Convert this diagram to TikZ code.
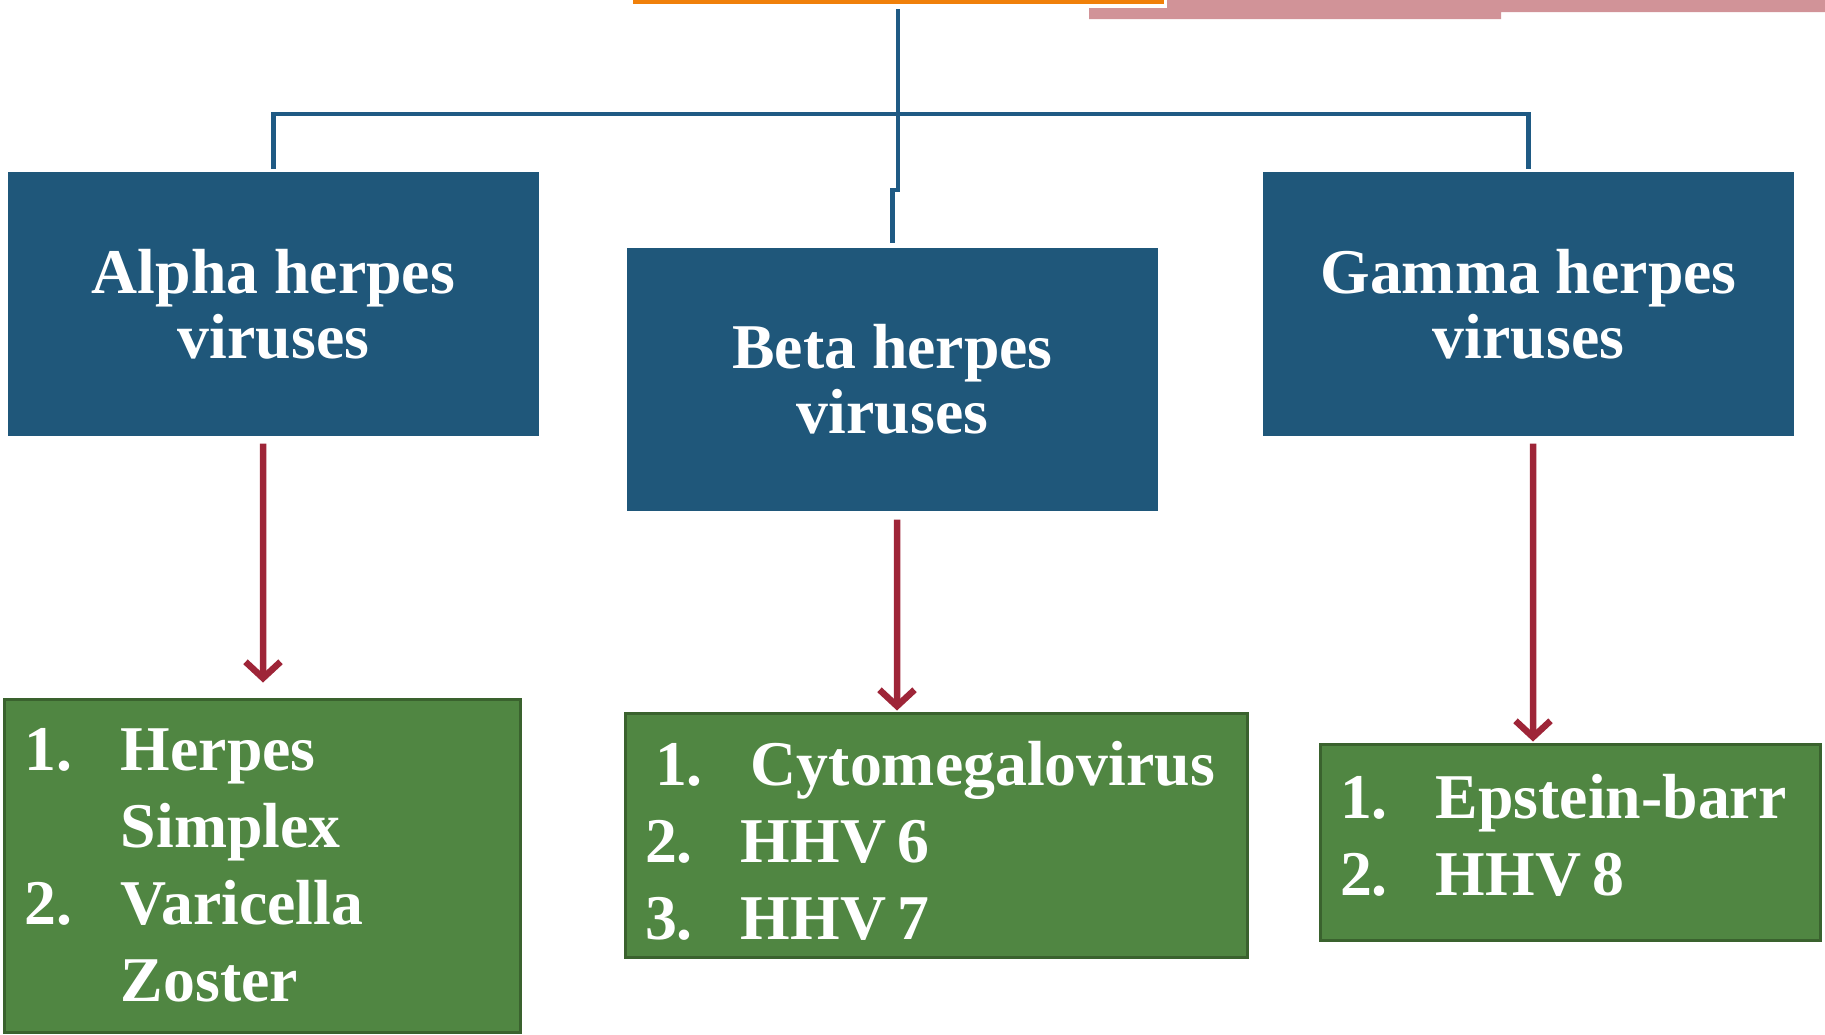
\documentclass[tikz,border=0pt]{standalone}
\usepackage{fontspec}
\setmainfont{Liberation Serif}
\usetikzlibrary{arrows.meta}
\definecolor{boxblue}{RGB}{31,87,122}
\definecolor{treeblue}{RGB}{31,90,132}
\definecolor{arrowred}{RGB}{158,37,56}
\definecolor{listgreen}{RGB}{80,134,66}
\definecolor{listborder}{RGB}{58,98,46}
\definecolor{barorange}{RGB}{240,128,10}
\definecolor{barpink}{RGB}{209,147,152}
\newcommand{\vitem}[2]{\makebox[38.4pt][l]{#1}#2}
\newcommand{\hhv}[1]{HHV\hspace{0.17em}#1}
\tikzset{
  familybox/.style={fill=boxblue, text=white, align=center, inner sep=0pt,
    minimum width=212.4pt, font=\fontsize{25.5pt}{26pt}\selectfont\bfseries},
  listbox/.style={fill=listgreen, draw=listborder, line width=1.2pt, text=white,
    align=left, inner xsep=8pt, font=\fontsize{25.5pt}{30.8pt}\selectfont\bfseries},
  treeline/.style={draw=treeblue, line width=1.7pt},
  downarrow/.style={draw=arrowred, line width=2.6pt, -{Straight Barb[length=6.5pt,width=14pt]}}
}

\begin{document}
\begin{tikzpicture}[x=0.4pt, y=-0.4pt]
  \useasboundingbox (0,0) rectangle (1825,1034);
  % bars cut off at the top edge
  \fill[barorange] (633,0) rectangle (1164,4);
  \fill[barpink] (1167,0) -- (1825,0) -- (1825,12) -- (1501,12) -- (1501,19)
    -- (1089,19) -- (1089,8) -- (1167,8) -- cycle;

  % the three families
  \node[familybox, minimum height=105.6pt] (alpha) at (273.5,304) {Alpha herpes\\viruses};
  \node[familybox, minimum height=105.2pt] (beta) at (892.5,379.5) {Beta herpes\\viruses};
  \node[familybox, minimum height=105.6pt] (gamma) at (1528.5,304) {Gamma herpes\\viruses};

  % members
  \node[listbox, minimum width=206pt, minimum height=133.2pt, text width=190pt]
    (alphalist) at (262.5,865.5)
    {\vitem{1.}{Herpes}\\\vitem{}{Simplex}\\\vitem{2.}{Varicella}\\\vitem{}{Zoster}};
  \node[listbox, minimum width=248.8pt, minimum height=97.6pt, text width=232.8pt]
    (betalist) at (936,835)
    {\rule{0pt}{22pt}\hspace*{4pt}\vitem{1.}{Cytomegalovirus}\\\vitem{2.}{\hhv{6}}\\\vitem{3.}{\hhv{7}}};
  \node[listbox, minimum width=200pt, minimum height=78.4pt, text width=184pt]
    (gammalist) at (1570,842)
    {\vitem{1.}{Epstein-barr}\\\vitem{2.}{\hhv{8}}\rule[-6pt]{0pt}{6pt}};

  % tree
  \coordinate (top) at (898,9);
  \coordinate (hub) at (898,114);
  \coordinate (jog) at (898,190);
  \draw[treeline] ([yshift=1.2pt]alpha.north) |- (hub) -| ([yshift=1.2pt]gamma.north);
  \draw[treeline] (top) -- (jog) -| ([yshift=2pt]beta.north);

  % arrows down to the lists
  \draw[downarrow] ([xshift=-4.2pt,yshift=-2.8pt]alpha.south) -- ([xshift=0.2pt,yshift=6pt]alphalist.north);
  \draw[downarrow] ([xshift=1.8pt,yshift=-3.2pt]beta.south) -- ([xshift=-15.6pt,yshift=0.4pt]betalist.north);
  \draw[downarrow] ([xshift=1.8pt,yshift=-2.8pt]gamma.south) -- ([xshift=-14.8pt,yshift=0.4pt]gammalist.north);
\end{tikzpicture}
\end{document}
